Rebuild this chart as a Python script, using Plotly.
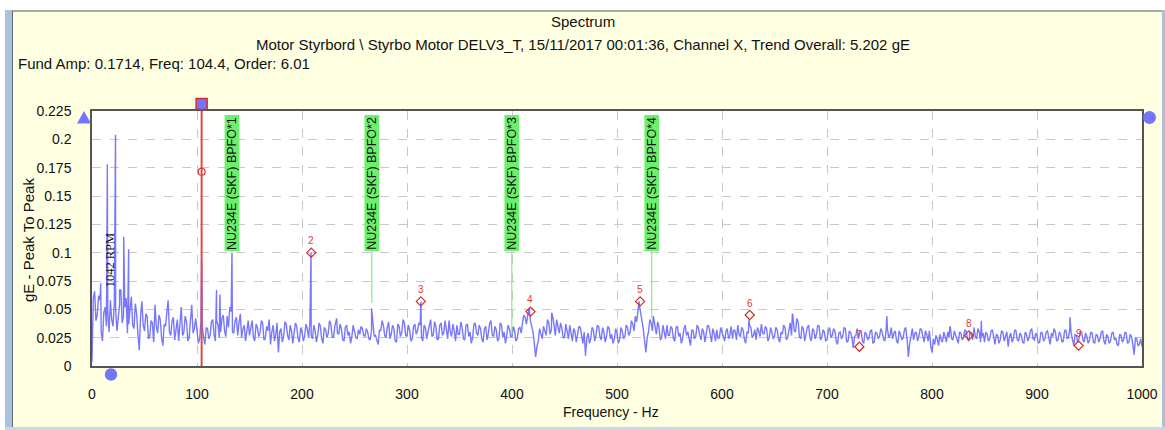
import plotly.graph_objects as go

# ---------------- data ----------------
bin_width_hz = 2.5
# noise floor on the 2.5 Hz grid, 0 .. 1000 Hz (gE)
base_amps = [
    0.004, 0.066, 0.045, 0.058, 0.022, 0.052, 0.048, 0.058, 0.035, 0.050,
    0.041, 0.067, 0.044, 0.060, 0.037, 0.061, 0.033, 0.046, 0.014, 0.057,
    0.031, 0.044, 0.026, 0.038, 0.054, 0.029, 0.041, 0.018, 0.035, 0.058,
    0.027, 0.043, 0.032, 0.022, 0.052, 0.030, 0.039, 0.025, 0.054, 0.033,
    0.030, 0.024, 0.035, 0.019, 0.033, 0.027, 0.041, 0.022, 0.036, 0.030,
    0.045, 0.026, 0.034, 0.048, 0.029, 0.043, 0.038, 0.025, 0.036, 0.031,
    0.027, 0.040, 0.022, 0.034, 0.029, 0.038, 0.024, 0.031, 0.019, 0.036,
    0.028, 0.012, 0.033, 0.026, 0.037, 0.023, 0.031, 0.028, 0.035, 0.021,
    0.030, 0.026, 0.033, 0.038, 0.024, 0.031, 0.027, 0.035, 0.020, 0.032,
    0.029, 0.037, 0.025, 0.042, 0.028, 0.033, 0.022, 0.036, 0.030, 0.026,
    0.031, 0.024, 0.028, 0.033, 0.026, 0.030, 0.023, 0.034, 0.027, 0.019,
    0.031, 0.036, 0.025, 0.039, 0.028, 0.033, 0.021, 0.035, 0.029, 0.038,
    0.026, 0.032, 0.024, 0.037, 0.031, 0.036, 0.022, 0.034, 0.030, 0.041,
    0.027, 0.035, 0.024, 0.038, 0.029, 0.033, 0.040, 0.026, 0.031, 0.036,
    0.028, 0.034, 0.023, 0.037, 0.030, 0.025, 0.038, 0.027, 0.033, 0.021,
    0.035, 0.029, 0.040, 0.026, 0.032, 0.024, 0.036, 0.030, 0.027, 0.033,
    0.026, 0.031, 0.024, 0.034, 0.038, 0.043, 0.045, 0.040, 0.030, 0.008,
    0.022, 0.029, 0.035, 0.027, 0.038, 0.032, 0.036, 0.041, 0.029, 0.033,
    0.025, 0.031, 0.036, 0.022, 0.030, 0.027, 0.034, 0.020, 0.009, 0.029,
    0.024, 0.032, 0.027, 0.035, 0.023, 0.030, 0.026, 0.033, 0.028, 0.024,
    0.029, 0.023, 0.031, 0.026, 0.034, 0.030, 0.037, 0.044, 0.050, 0.045,
    0.033, 0.012, 0.030, 0.038, 0.042, 0.028, 0.034, 0.025, 0.031, 0.036,
    0.027, 0.033, 0.022, 0.035, 0.029, 0.024, 0.036, 0.030, 0.018, 0.031,
    0.026, 0.034, 0.023, 0.030, 0.027, 0.035, 0.021, 0.029, 0.032, 0.025,
    0.030, 0.022, 0.033, 0.027, 0.024, 0.031, 0.036, 0.026, 0.032, 0.020,
    0.029, 0.034, 0.027, 0.023, 0.031, 0.037, 0.028, 0.033, 0.025, 0.030,
    0.026, 0.032, 0.021, 0.028, 0.034, 0.025, 0.038, 0.045, 0.030, 0.039,
    0.024, 0.033, 0.027, 0.036, 0.022, 0.031, 0.028, 0.035, 0.025, 0.030,
    0.023, 0.034, 0.027, 0.031, 0.019, 0.030, 0.026, 0.033, 0.022, 0.029,
    0.016, 0.027, 0.024, 0.031, 0.020, 0.028, 0.025, 0.032, 0.021, 0.029,
    0.026, 0.030, 0.022, 0.033, 0.027, 0.024, 0.031, 0.020, 0.028, 0.025,
    0.034, 0.008, 0.027, 0.023, 0.030, 0.026, 0.032, 0.021, 0.028, 0.031,
    0.012, 0.019, 0.024, 0.028, 0.021, 0.026, 0.030, 0.034, 0.023, 0.027,
    0.020, 0.029, 0.025, 0.031, 0.022, 0.028, 0.034, 0.024, 0.030, 0.026,
    0.021, 0.028, 0.024, 0.032, 0.019, 0.027, 0.023, 0.030, 0.026, 0.017,
    0.029, 0.024, 0.031, 0.022, 0.027, 0.020, 0.028, 0.025, 0.033, 0.023,
    0.027, 0.021, 0.029, 0.024, 0.031, 0.019, 0.026, 0.030, 0.023, 0.028,
    0.022, 0.032, 0.025, 0.029, 0.018, 0.027, 0.024, 0.030, 0.021, 0.026,
    0.023, 0.029, 0.020, 0.027, 0.024, 0.031, 0.019, 0.026, 0.022, 0.030,
    0.025, 0.018, 0.027, 0.023, 0.029, 0.021, 0.026, 0.010, 0.024, 0.019,
    0.017,
]
# noise floor at the half-bins (1.25 Hz + 2.5 Hz * i)
mid_amps = [
    0.060, 0.040, 0.062, 0.030, 0.047, 0.035, 0.030, 0.041, 0.055, 0.031,
    0.054, 0.038, 0.052, 0.029, 0.050, 0.036, 0.055, 0.028, 0.044, 0.036,
    0.046, 0.024, 0.040, 0.021, 0.035, 0.045, 0.025, 0.037, 0.047, 0.030,
    0.040, 0.023, 0.041, 0.036, 0.027, 0.044, 0.022, 0.040, 0.029, 0.042,
    0.020, 0.038, 0.026, 0.034, 0.024, 0.039, 0.028, 0.040, 0.025, 0.042,
    0.031, 0.044, 0.052, 0.030, 0.040, 0.027, 0.046, 0.033, 0.022, 0.040,
    0.036, 0.025, 0.037, 0.026, 0.040, 0.023, 0.035, 0.041, 0.030, 0.022,
    0.038, 0.030, 0.021, 0.039, 0.027, 0.036, 0.020, 0.038, 0.024, 0.034,
    0.022, 0.037, 0.025, 0.027, 0.036, 0.021, 0.038, 0.024, 0.034, 0.025,
    0.040, 0.026, 0.035, 0.029, 0.037, 0.023, 0.034, 0.027, 0.020, 0.036,
    0.025, 0.032, 0.035, 0.027, 0.033, 0.024, 0.031, 0.026, 0.022, 0.032,
    0.040, 0.027, 0.034, 0.024, 0.036, 0.022, 0.037, 0.026, 0.041, 0.027,
    0.036, 0.022, 0.035, 0.028, 0.038, 0.025, 0.036, 0.024, 0.037, 0.026,
    0.039, 0.023, 0.036, 0.027, 0.040, 0.024, 0.030, 0.037, 0.022, 0.028,
    0.039, 0.024, 0.036, 0.026, 0.020, 0.037, 0.029, 0.036, 0.024, 0.033,
    0.023, 0.038, 0.027, 0.035, 0.022, 0.038, 0.025, 0.020, 0.036, 0.026,
    0.035, 0.022, 0.033, 0.029, 0.045, 0.037, 0.049, 0.034, 0.020, 0.017,
    0.033, 0.024, 0.030, 0.041, 0.028, 0.044, 0.027, 0.034, 0.038, 0.025,
    0.037, 0.024, 0.028, 0.033, 0.021, 0.035, 0.025, 0.030, 0.024, 0.020,
    0.034, 0.022, 0.036, 0.026, 0.034, 0.021, 0.035, 0.024, 0.020, 0.033,
    0.020, 0.034, 0.024, 0.036, 0.027, 0.040, 0.031, 0.039, 0.054, 0.040,
    0.022, 0.025, 0.041, 0.031, 0.035, 0.039, 0.023, 0.036, 0.024, 0.027,
    0.035, 0.024, 0.034, 0.026, 0.020, 0.033, 0.027, 0.022, 0.032, 0.024,
    0.036, 0.027, 0.033, 0.021, 0.036, 0.026, 0.033, 0.022, 0.024, 0.034,
    0.025, 0.031, 0.024, 0.035, 0.032, 0.023, 0.028, 0.034, 0.024, 0.030,
    0.036, 0.025, 0.032, 0.034, 0.026, 0.029, 0.035, 0.022, 0.034, 0.024,
    0.034, 0.024, 0.030, 0.036, 0.023, 0.033, 0.027, 0.031, 0.042, 0.026,
    0.035, 0.022, 0.034, 0.025, 0.033, 0.024, 0.036, 0.023, 0.032, 0.022,
    0.031, 0.025, 0.033, 0.022, 0.029, 0.024, 0.034, 0.021, 0.031, 0.025,
    0.026, 0.033, 0.030, 0.022, 0.030, 0.023, 0.031, 0.020, 0.030, 0.024,
    0.033, 0.024, 0.031, 0.025, 0.034, 0.029, 0.022, 0.031, 0.023, 0.032,
    0.024, 0.020, 0.033, 0.029, 0.022, 0.033, 0.025, 0.031, 0.022, 0.018,
    0.024, 0.027, 0.018, 0.023, 0.030, 0.021, 0.025, 0.024, 0.031, 0.022,
    0.030, 0.023, 0.032, 0.024, 0.030, 0.023, 0.026, 0.033, 0.021, 0.029,
    0.030, 0.022, 0.031, 0.023, 0.028, 0.020, 0.031, 0.022, 0.030, 0.026,
    0.021, 0.032, 0.023, 0.029, 0.021, 0.030, 0.022, 0.031, 0.024, 0.029,
    0.020, 0.030, 0.022, 0.030, 0.023, 0.029, 0.033, 0.022, 0.030, 0.021,
    0.031, 0.024, 0.033, 0.022, 0.028, 0.021, 0.031, 0.023, 0.029, 0.020,
    0.030, 0.021, 0.028, 0.021, 0.030, 0.022, 0.028, 0.020, 0.029, 0.023,
    0.019, 0.028, 0.021, 0.030, 0.020, 0.028, 0.019, 0.025, 0.018, 0.024,
]

# discrete spectral peaks
peak_freqs = [8.3, 14.6, 22.4, 26.3, 30.2, 34.9, 104.4, 118.6, 121.8, 133.3,
              208.6, 233.0, 266.3, 313.3, 416.5, 437.8, 521.0, 534.6, 625.7,
              667.0, 757.0, 817.0, 847.0, 931.4]
peak_amps = [0.073, 0.178, 0.204, 0.067, 0.114, 0.103, 0.094, 0.067, 0.063, 0.100,
             0.100, 0.042, 0.051, 0.057, 0.051, 0.047, 0.057, 0.044, 0.041,
             0.046, 0.044, 0.035, 0.040, 0.043]

# cursor / harmonic markers
cursor_freq = 104.4
cursor_amp = 0.1714
harm_freqs = [208.8, 313.2, 417.6, 522.0, 626.4, 730.8, 835.2, 939.6]
harm_amps = [0.100, 0.057, 0.048, 0.057, 0.045, 0.017, 0.027, 0.018]
harm_labels = ["2", "3", "4", "5", "6", "7", "8", "9"]

# bearing fault frequency markers
bpfo_freqs = [133.3, 266.5, 399.8, 533.1]
bpfo_line_ends = [0.100, 0.0556, 0.0274, 0.042]
bpfo_labels = ["NU234E (SKF) BPFO*1", "NU234E (SKF) BPFO*2",
               "NU234E (SKF) BPFO*3", "NU234E (SKF) BPFO*4"]

x_ticks = [0, 100, 200, 300, 400, 500, 600, 700, 800, 900, 1000]
y_ticks = [0, 0.025, 0.05, 0.075, 0.1, 0.125, 0.15, 0.175, 0.2, 0.225]
y_tick_text = ["0", "0.025", "0.05", "0.075", "0.1", "0.125", "0.15", "0.175", "0.2", "0.225"]

# ---------------- build spectrum ----------------
pts = [(i * bin_width_hz, a) for i, a in enumerate(base_amps)]
pts += [((i + 0.5) * bin_width_hz, a) for i, a in enumerate(mid_amps)]
pts += list(zip(peak_freqs, peak_amps))
pts.sort()
spec_f = [p[0] for p in pts]
spec_a = [p[1] for p in pts]

# ---------------- layout geometry (pixels) ----------------
W, H = 1165, 430
L, R, T, B = 92, 1142, 111, 366
def px(xp):
    return (xp - L) / (R - L)
def py(yp):
    return (B - yp) / (B - T)

BLUE = "#7474ff"
FONT = "Liberation Sans, Arial, sans-serif"

fig = go.Figure()

fig.add_trace(go.Scatter(x=spec_f, y=spec_a, mode="lines",
                         line=dict(color="rgba(105,105,252,0.9)", width=1.4),
                         hoverinfo="skip"))

fig.add_trace(go.Scatter(x=harm_freqs, y=harm_amps, mode="markers",
                         marker=dict(symbol="diamond-open", size=7,
                                     color="#d42a2a", line=dict(width=1.2)),
                         hoverinfo="skip"))
fig.add_trace(go.Scatter(x=[cursor_freq], y=[cursor_amp], mode="markers",
                         marker=dict(symbol="circle-open", size=7,
                                     color="#d42a2a", line=dict(width=1.2)),
                         hoverinfo="skip"))

shapes = []
annotations = []

for f, yend, lab in zip(bpfo_freqs, bpfo_line_ends, bpfo_labels):
    shapes.append(dict(type="line", xref="x", yref="y", x0=f, x1=f,
                       y0=yend, y1=0.1015, line=dict(color="#8ee88e", width=1.2)))
    shapes.append(dict(type="rect", xref="x", yref="y", x0=f - 7.0, x1=f + 7.0,
                       y0=0.1015, y1=0.2215, fillcolor="#6cf06c",
                       line=dict(width=0)))
    annotations.append(dict(x=f, y=0.1615, xref="x", yref="y", text=lab,
                            textangle=-90, showarrow=False,
                            xanchor="center", yanchor="middle",
                            font=dict(family=FONT, size=12.5, color="#111")))

shapes.append(dict(type="line", xref="x", yref="y", x0=cursor_freq, x1=cursor_freq,
                   y0=0, y1=0.225, line=dict(color="#dd4a4a", width=2)))

for f, a, lab in zip(harm_freqs, harm_amps, harm_labels):
    annotations.append(dict(x=f, y=a, xref="x", yref="y", text=lab, showarrow=False,
                            yshift=12, font=dict(family=FONT, size=10, color="#e03a3a")))

annotations.append(dict(x=18, y=0.094, xref="x", yref="y", text="1042 RPM",
                        textangle=-90, showarrow=False,
                        font=dict(family="Liberation Serif, Times New Roman, serif",
                                  size=12.5, color="#111")))

annotations += [
    dict(x=px(583), y=py(22), xref="paper", yref="paper", text="Spectrum",
         showarrow=False, xanchor="center", yanchor="middle",
         font=dict(family=FONT, size=15, color="#111")),
    dict(x=px(583), y=py(44), xref="paper", yref="paper",
         text="Motor Styrbord \\ Styrbo Motor DELV3_T, 15/11/2017 00:01:36, Channel X, Trend Overall: 5.202 gE",
         showarrow=False, xanchor="center", yanchor="middle",
         font=dict(family=FONT, size=15, color="#111")),
    dict(x=px(16), y=py(63), xref="paper", yref="paper",
         text="Fund Amp: 0.1714, Freq: 104.4, Order: 6.01",
         showarrow=False, xanchor="left", yanchor="middle",
         font=dict(family=FONT, size=15, color="#111")),
    dict(x=px(28), y=py(240), xref="paper", yref="paper", text="gE - Peak To Peak",
         textangle=-90, showarrow=False, xanchor="center", yanchor="middle",
         font=dict(family=FONT, size=15, color="#111")),
    dict(x=px(611), y=py(412), xref="paper", yref="paper", text="Frequency - Hz",
         showarrow=False, xanchor="center", yanchor="middle",
         font=dict(family=FONT, size=14, color="#111")),
]

def prect(x0, y0, x1, y1, color, line=None):
    return dict(type="rect", xref="paper", yref="paper", layer="above",
                x0=px(x0), x1=px(x1), y0=py(y1), y1=py(y0),
                fillcolor=color, line=line or dict(width=0))
def pcircle(cx, cy, r, color):
    return dict(type="circle", xref="paper", yref="paper", layer="above",
                x0=px(cx - r), x1=px(cx + r), y0=py(cy + r), y1=py(cy - r),
                fillcolor=color, line=dict(width=0))

# chart-control handles around the plot
cur_px = L + cursor_freq / 1000 * (R - L)
shapes += [
    dict(type="path", xref="paper", yref="paper", layer="above",
         path="M {} {} L {} {} L {} {} Z".format(px(77), py(123.5), px(91), py(123.5),
                                                 px(84), py(111)),
         fillcolor=BLUE, line=dict(width=0)),
    pcircle(111, 374.5, 6.2, BLUE),
    pcircle(1149.5, 117.5, 6.5, BLUE),
    prect(cur_px - 5.5, 98.5, cur_px + 5.5, 109.5, BLUE,
          line=dict(color="#c83030", width=1.5)),
]

# outer window frame
shapes += [
    prect(0, 0, W, 10, "white"),
    prect(0, 0, 5, H, "white"),
    prect(5, 10, 12, H, "#a9c2de"),
    prect(1162, 10, W, H, "#a9c2de"),
    prect(5, 427, W, H, "#c9d7e6"),
    dict(type="line", xref="paper", yref="paper", layer="above",
         x0=px(12), x1=px(1162), y0=py(11), y1=py(11),
         line=dict(color="#8c8c8c", width=1.5)),
    dict(type="line", xref="paper", yref="paper", layer="above",
         x0=px(12.5), x1=px(12.5), y0=py(11), y1=py(427),
         line=dict(color="#6c6c6c", width=1)),
]

fig.update_layout(
    width=W, height=H,
    margin=dict(l=L, r=W - R, t=T, b=H - B, autoexpand=False),
    paper_bgcolor="#ffffe1", plot_bgcolor="white",
    showlegend=False,
    font=dict(family=FONT, size=13, color="#111"),
    shapes=shapes, annotations=annotations,
)
fig.update_xaxes(range=[0, 1000], tickvals=x_ticks, ticks="", ticklabelstandoff=14,
                 showgrid=True, gridcolor="#c8c8c8", griddash="dash", gridwidth=1,
                 zeroline=False, showline=True, mirror=True, linecolor="#555",
                 linewidth=1.5, tickfont=dict(size=14))
fig.update_yaxes(range=[0, 0.225], tickvals=y_ticks, ticktext=y_tick_text, ticks="",
                 ticklabelstandoff=16,
                 showgrid=True, gridcolor="#c8c8c8", griddash="dash", gridwidth=1,
                 zeroline=False, showline=True, mirror=True, linecolor="#555",
                 linewidth=1.5, tickfont=dict(size=14))

fig.write_html("out.html", config={"displayModeBar": False},
               post_script="document.body.style.margin='0';document.body.style.overflow='hidden';")
